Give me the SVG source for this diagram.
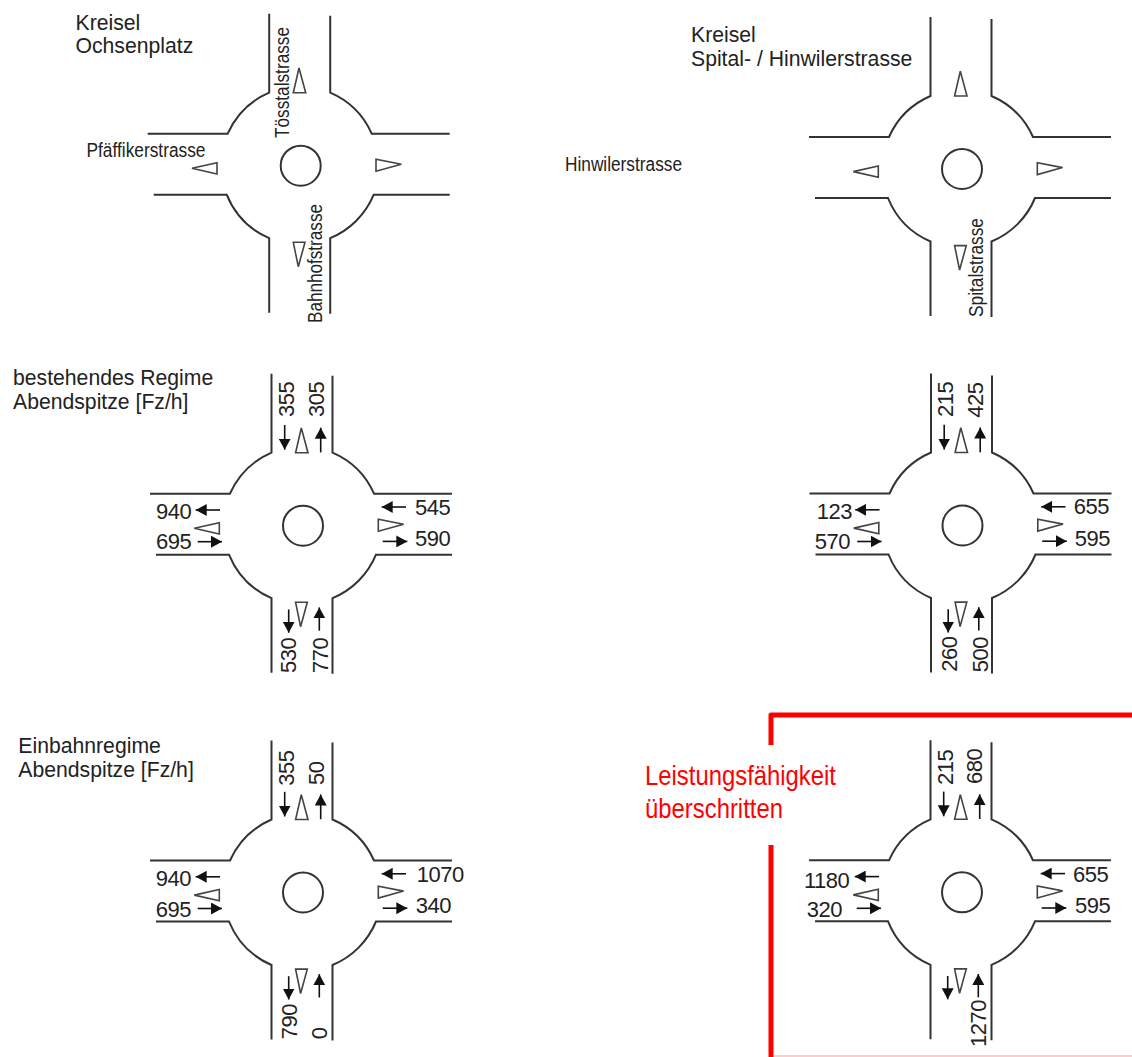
<svg xmlns="http://www.w3.org/2000/svg" xmlns:xlink="http://www.w3.org/1999/xlink" width="1132" height="1057" viewBox="0 0 1132 1057">
<style>
.road{fill:none;stroke:#333;stroke-width:2}
.isl{fill:#fff;stroke:#333;stroke-width:2}
.tri{fill:#fff;stroke:#444;stroke-width:1.6;stroke-linejoin:miter}
.flow{fill:none;stroke:#111;stroke-width:1.6;marker-end:url(#ah)}
text{font-family:"Liberation Sans",Arial,sans-serif;fill:#222}
.n{font-size:22px;letter-spacing:-.5px}
.s{font-size:19.5px}
.h{font-size:21.2px}
.r{font-size:28px;fill:#f00}
</style>
<defs>
<marker id="ah" markerUnits="userSpaceOnUse" markerWidth="12" markerHeight="12" refX="11" refY="6" orient="auto"><path d="M0 0L11 6L0 12Z" fill="#111"/></marker>
<g id="rb">
<circle class="isl" cx="0" cy="0" r="20"/>
<path class="road" d="M-31.5-152V-73A80 80 0 0 0-73-32H-153"/>
<path class="road" d="M29.5-150V-73A80 80 0 0 1 71-32H149"/>
<path class="road" d="M-147 29H-74A80 80 0 0 0-31.5 72.5V147"/>
<path class="road" d="M149 29H73A80 80 0 0 1 29.5 72.5V148"/>
<path class="tri" d="M-1.7-97.7L-7.4-73H5Z"/>
<path class="tri" d="M-7.4 76.6H4.3L-2.4 101Z"/>
<path class="tri" d="M-108.7 2.6L-83.7-3V8.3Z"/>
<path class="tri" d="M75.3-6.4V5.6L100.6-1.4Z"/>
</g>
<g id="fl">
<path class="flow" d="M-18.3-100.7V-76"/>
<path class="flow" d="M17.7-73.3V-98"/>
<path class="flow" d="M-83-15.7H-107.3"/>
<path class="flow" d="M-105.3 16H-81"/>
<path class="flow" d="M103-18.7H78.7"/>
<path class="flow" d="M79.7 15.7H104.3"/>
<path class="flow" d="M-14.3 83.7V107"/>
<path class="flow" d="M16.3 105V81.7"/>
</g>
</defs>
<g id="node-ochsenplatz">
<use xlink:href="#rb" href="#rb" x="300.7" y="165.7"/>
<text class="h" x="75.5" y="30">Kreisel</text><text class="h" x="75.5" y="53">Ochsenplatz</text>
<text class="s" textLength="111" lengthAdjust="spacingAndGlyphs" transform="translate(289 138) rotate(-90)">Tösstalstrasse</text>
<text class="s" textLength="119" lengthAdjust="spacingAndGlyphs" x="86.5" y="156.5">Pfäffikerstrasse</text>
<text class="s" textLength="119" lengthAdjust="spacingAndGlyphs" transform="translate(322.3 323) rotate(-90)">Bahnhofstrasse</text>
</g>
<g id="node-spital">
<use xlink:href="#rb" href="#rb" x="962" y="169"/>
<text class="h" x="691" y="41.7">Kreisel</text><text class="h" x="691" y="65.7">Spital- / Hinwilerstrasse</text>
<text class="s" textLength="117" lengthAdjust="spacingAndGlyphs" x="565" y="170.5">Hinwilerstrasse</text>
<text class="s" textLength="99" lengthAdjust="spacingAndGlyphs" transform="translate(983 317) rotate(-90)">Spitalstrasse</text>
</g>
<g id="node-bestehend-1">
<use xlink:href="#rb" href="#rb" x="303" y="525.7"/>
<text class="h" x="13" y="385">bestehendes Regime</text><text class="h" x="13" y="409">Abendspitze [Fz/h]</text>
<text class="n" transform="translate(294 417) rotate(-90)">355</text>
<text class="n" transform="translate(324 417) rotate(-90)">305</text>
<text class="n" x="156" y="518.5">940</text><text class="n" x="156" y="549">695</text>
<text class="n" x="415" y="514.5">545</text><text class="n" x="415" y="546">590</text>
<text class="n" transform="translate(296 673) rotate(-90)">530</text>
<text class="n" transform="translate(328 673) rotate(-90)">770</text>
</g>
<g id="node-bestehend-2">
<use xlink:href="#rb" href="#rb" x="962.5" y="525.5"/>
<text class="n" transform="translate(952.7 417) rotate(-90)">215</text>
<text class="n" transform="translate(983.3 417.7) rotate(-90)">425</text>
<text class="n" x="816.7" y="519">123</text><text class="n" x="814.7" y="549.3">570</text>
<text class="n" x="1073.7" y="514.3">655</text><text class="n" x="1074.7" y="546">595</text>
<text class="n" transform="translate(956.7 671.7) rotate(-90)">260</text>
<text class="n" transform="translate(987.7 672.3) rotate(-90)">500</text>
</g>
<g id="node-einbahn-1">
<use xlink:href="#rb" href="#rb" x="303" y="892.5"/>
<text class="h" x="18.3" y="753.3">Einbahnregime</text><text class="h" x="18.3" y="777.3">Abendspitze [Fz/h]</text>
<text class="n" transform="translate(294 785.7) rotate(-90)">355</text>
<text class="n" transform="translate(324 785) rotate(-90)">50</text>
<text class="n" x="155.7" y="886">940</text><text class="n" x="155.7" y="916.7">695</text>
<text class="n" x="416.7" y="882.3">1070</text><text class="n" x="415.7" y="913.3">340</text>
<text class="n" transform="translate(296.7 1039.3) rotate(-90)">790</text>
<text class="n" transform="translate(327.3 1039.3) rotate(-90)">0</text>
</g>
<g id="node-einbahn-2">
<use xlink:href="#rb" href="#rb" x="962" y="892.3"/>
<text class="n" transform="translate(952.7 785) rotate(-90)">215</text>
<text class="n" transform="translate(982 784) rotate(-90)">680</text>
<text class="n" x="804" y="887.7">1180</text><text class="n" x="806.7" y="916.7">320</text>
<text class="n" x="1073" y="882">655</text><text class="n" x="1075" y="913">595</text>
<text class="n" transform="translate(986 1047) rotate(-90)">1270</text>
</g>
<g id="connectors">
<use xlink:href="#fl" href="#fl" x="303" y="525.7"/>
<use xlink:href="#fl" href="#fl" x="962.5" y="525.5"/>
<use xlink:href="#fl" href="#fl" x="303" y="892.5"/>
<use xlink:href="#fl" href="#fl" x="962" y="892.3"/>
</g>
<g id="capacity-note">
<path d="M771 745V715H1132" fill="none" stroke="#f00" stroke-width="5" stroke-linejoin="round"/>
<path d="M771 845V1057" fill="none" stroke="#f00" stroke-width="5"/>
<path d="M773 1056H1132" fill="none" stroke="#f99" stroke-width="1"/>
<text class="r" x="645" y="785" textLength="191" lengthAdjust="spacingAndGlyphs">Leistungsfähigkeit</text>
<text class="r" x="645" y="817.7" textLength="138" lengthAdjust="spacingAndGlyphs">überschritten</text>
</g>
</svg>
